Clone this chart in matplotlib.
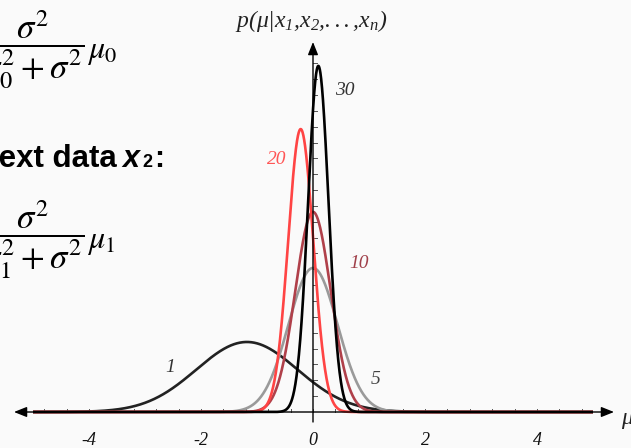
import numpy as np
import matplotlib
matplotlib.use("Agg")
import matplotlib.pyplot as plt

# ---- data ----
curve_labels = ["1", "5", "10", "20", "30"]
curve_means = [-1.18, 0.0, 0.0, -0.22, 0.095]
curve_sds = [0.903, 0.439, 0.316, 0.2235, 0.1827]
curve_colors = ["#222222", "#9a9a9a", "#b0404a", "#ff4444", "#000000"]
label_colors = ["#333333", "#444444", "#a0404a", "#ff5555", "#333333"]
label_x = [-2.55, 1.11, 0.82, -0.64, 0.57]
label_y = [0.278, 0.202, 0.94, 1.59, 2.03]
xtick_vals = [-4, -2, 0, 2, 4]
xtick_labels = ["-4", "-2", "0", "2", "4"]

W, H = 631, 448
X0, SX = 313.0, 56.0      # pixel of x=0, px per x unit
Y0, SY = 412.0, 158.5     # pixel of y=0, px per y unit

plt.rcParams['mathtext.fontset'] = 'custom'
plt.rcParams['mathtext.rm'] = 'Liberation Serif:italic'
plt.rcParams['mathtext.it'] = 'Liberation Serif:italic'
plt.rcParams['mathtext.bf'] = 'Liberation Serif:bold'

fig = plt.figure(figsize=(W / 100, H / 100), dpi=100)
fig.patch.set_facecolor("#fafafa")
ax = fig.add_axes([0, 0, 1, 1])
ax.set_facecolor("#fafafa")
ax.set_xlim(-X0 / SX, (W - X0) / SX)
ax.set_ylim((Y0 - H) / SY, Y0 / SY)
ax.axis("off")


def fp(x, y):
    return (x / W, 1 - y / H)


# axes
ax.annotate("", xy=((614 - X0) / SX, 0), xytext=((14 - X0) / SX, 0),
            arrowprops=dict(arrowstyle="<|-|>,head_length=0.55,head_width=0.22",
                            lw=1.0, color="black", mutation_scale=14,
                            shrinkA=0, shrinkB=0))
ax.annotate("", xy=(0, (Y0 - 42) / SY), xytext=(0, (Y0 - 422) / SY),
            arrowprops=dict(arrowstyle="-|>,head_length=0.55,head_width=0.22",
                            lw=1.0, color="black", mutation_scale=14,
                            shrinkA=0, shrinkB=0))
# minor ticks
for k in range(-12, 13):
    xv = 0.4 * k
    ax.plot([xv, xv], [0, 3.5 / SY], color="#555555", lw=0.7)
for k in range(1, 23):
    yv = 0.1 * k
    ax.plot([0, 3.5 / SX], [yv, yv], color="#555555", lw=0.7)

# curves
xs = np.linspace(-5.0, 5.0, 3000)
for m, s, c in zip(curve_means, curve_sds, curve_colors):
    ys = np.exp(-0.5 * ((xs - m) / s) ** 2) / (s * np.sqrt(2 * np.pi))
    ax.plot(xs, ys, color=c, lw=1.9, solid_capstyle="butt")

for lab, lx, ly, lc in zip(curve_labels, label_x, label_y, label_colors):
    ax.text(lx, ly, lab, color=lc, fontsize=14, family="Liberation Serif",
            style="italic", ha="center", va="center")

for xv, xl in zip(xtick_vals, xtick_labels):
    ax.text(xv, (Y0 - 440) / SY, xl, fontsize=13, family="Liberation Serif",
            style="italic", ha="center", va="center", color="#111111")

# axis labels
fig.text(*fp(311, 27), r"$p(\mu|x_1{,}x_2{,}...{,}x_n)$", ha="center",
         va="baseline", fontsize=17, math_fontfamily="custom", color="#222222")
fig.text(*fp(621, 424), "μ", ha="left", va="baseline", fontsize=17,
         family="Liberation Serif", style="italic", color="#222222")

# left slide text (partially cut off)
fig.text(*fp(84, 50), r"$\dfrac{\sigma^2}{\sigma_0^2+\sigma^2}$", ha="right",
         va="center", fontsize=25, math_fontfamily="stix", color="black")
fig.text(*fp(87, 58), r"$\mu_0$", ha="left",
         va="baseline", fontsize=23, math_fontfamily="stix", color="black")
fig.text(*fp(84, 240), r"$\dfrac{\sigma^2}{\sigma_1^2+\sigma^2}$", ha="right",
         va="center", fontsize=25, math_fontfamily="stix", color="black")
fig.text(*fp(87, 248), r"$\mu_1$", ha="left",
         va="baseline", fontsize=23, math_fontfamily="stix", color="black")

fig.text(*fp(117, 167), "Next data", ha="right", va="baseline", fontsize=22.5,
         family="Liberation Sans", weight="bold", color="black")
fig.text(*fp(122, 167), "x", ha="left", va="baseline", fontsize=22,
         family="Liberation Sans", weight="bold", style="italic", color="black")
fig.text(*fp(142, 167), "2", ha="left", va="baseline", fontsize=13,
         family="Liberation Sans", weight="bold", color="black")
fig.text(*fp(154, 167), ":", ha="left", va="baseline", fontsize=22,
         family="Liberation Sans", weight="bold", color="black")

fig.savefig("out.png", dpi=100, facecolor=fig.get_facecolor())
